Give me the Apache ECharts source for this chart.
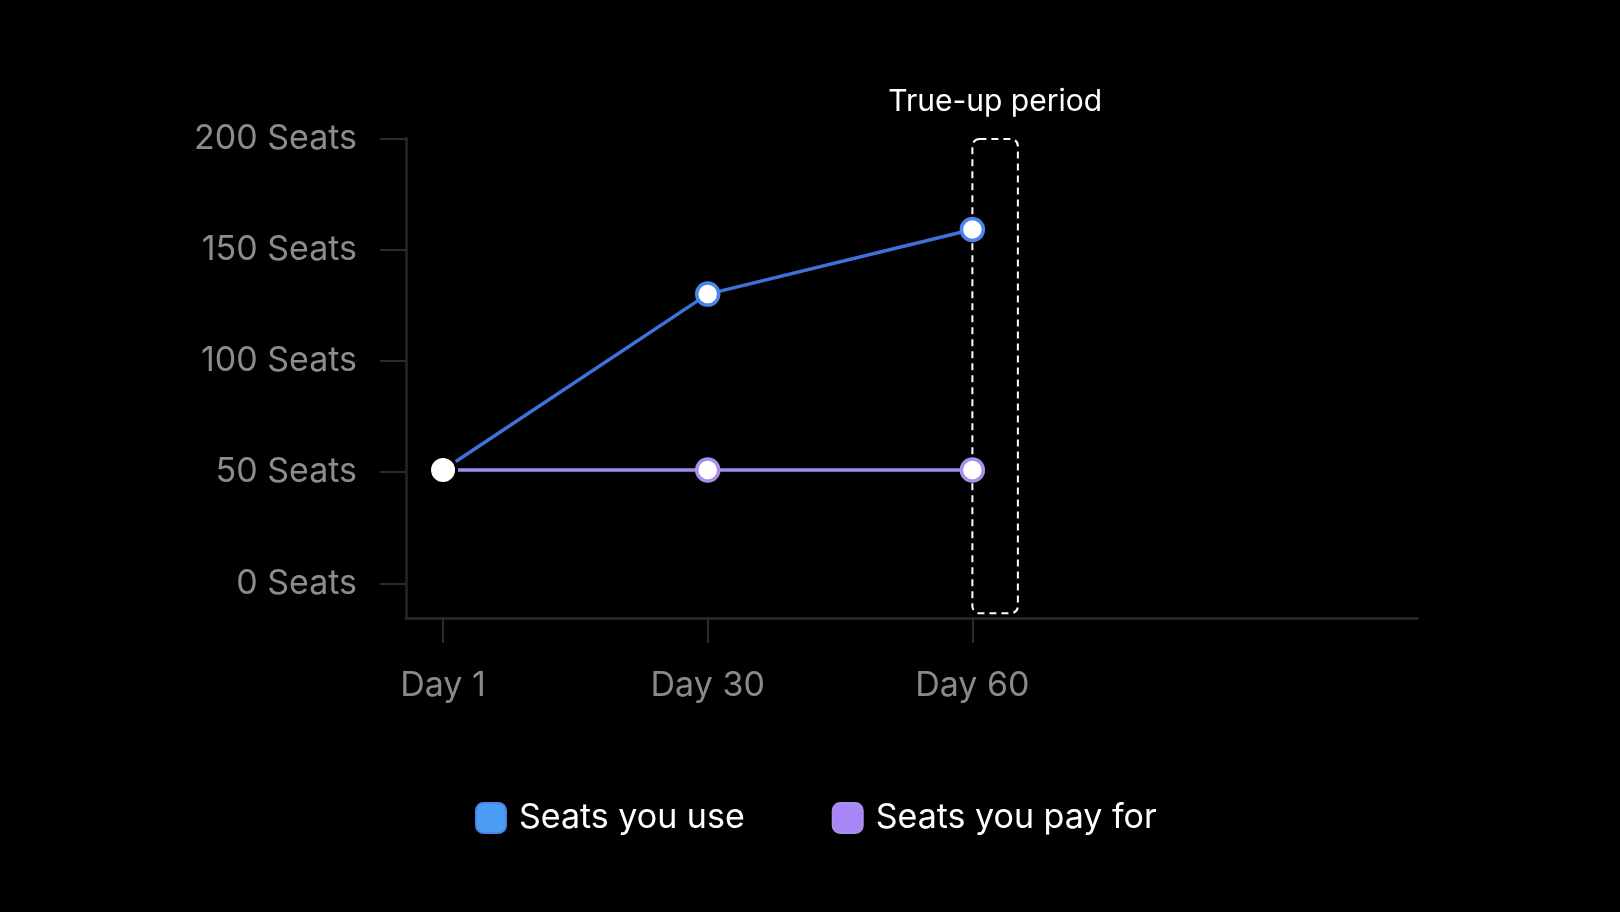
<!DOCTYPE html>
<html>
<head>
<meta charset="utf-8">
<script src="https://cdn.jsdelivr.net/npm/echarts@6/dist/echarts.min.js"></script>
<style>
html,body{margin:0;padding:0;background:#000;}
#c{width:1620px;height:912px;}
</style>
</head>
<body>
<div id="c"></div>
<script>
const categories = ['Day 1', 'Day 30', 'Day 60'];
const seatsYouUse = [51, 130, 159];
const seatsYouPayFor = [51, 51, 51];
const yTicks = [0, 50, 100, 150, 200];
const seriesNames = ['Seats you use', 'Seats you pay for'];
const trueUpLabel = 'True-up period';
const trueUpStart = 'Day 60';

const FONT = 'Inter, "Noto Sans", sans-serif';
const yMin = -15.5, yMax = 200;
const xMin = -0.14, xMax = 3.68;
const catIdx = categories.map((c, i) => i);

function makeData(vals) {
  return vals.map((v, i) => {
    const d = { value: [i, v] };
    if (i === 0) {
      d.symbolSize = 27;
      d.itemStyle = { color: '#ffffff', borderColor: '#000000', borderWidth: 3 };
    }
    return d;
  });
}

const chart = echarts.init(document.getElementById('c'));
chart.setOption({
  backgroundColor: '#000000',
  animation: false,
  grid: { left: 406, right: 203, top: 138.3, bottom: 294 },
  xAxis: {
    type: 'value', min: xMin, max: xMax,
    axisLine: { show: true, onZero: false, lineStyle: { color: '#262626', width: 3 } },
    axisTick: { show: true, customValues: catIdx, length: 25, lineStyle: { color: '#2c2c2c', width: 2 } },
    axisLabel: { customValues: catIdx, formatter: v => categories[Math.round(v)] || '',
      color: '#8a8a8a', fontFamily: FONT, fontSize: 34, margin: 51 },
    splitLine: { show: false }
  },
  yAxis: {
    type: 'value', min: yMin, max: yMax,
    axisLine: { show: true, onZero: false, lineStyle: { color: '#262626', width: 2.5 } },
    axisTick: { show: true, customValues: yTicks, length: 26, lineStyle: { color: '#2c2c2c', width: 2 } },
    axisLabel: { customValues: yTicks, formatter: v => v + ' Seats',
      color: '#8c8c8c', fontFamily: FONT, fontSize: 34, margin: 49, padding: [4, 0, 0, 0] },
    splitLine: { show: false }
  },
  legend: {
    data: [
      { name: seriesNames[0], itemStyle: { color: '#4b9cf5' } },
      { name: seriesNames[1], itemStyle: { color: '#a886f5' } }
    ],
    icon: 'roundRect', itemWidth: 30, itemHeight: 30, itemGap: 87,
    left: 470, top: 796,
    textStyle: { color: '#ffffff', fontFamily: FONT, fontSize: 34, padding: [0, 0, 0, 8] }
  },
  series: [
    {
      type: 'custom', name: 'trueup', silent: true, clip: false, z: 1,
      data: [[categories.indexOf(trueUpStart)]],
      renderItem: function (params, api) {
        const x0 = api.value(0);
        const tl = api.coord([x0, yMax]);
        const bl = api.coord([x0, yMin]);
        const w = 45.5;
        return {
          type: 'group',
          children: [
            { type: 'rect', shape: { x: tl[0], y: tl[1] + 0.7, width: w, height: bl[1] - tl[1] - 5.5, r: 7 },
              style: { fill: 'none', stroke: '#ffffff', lineWidth: 2, lineDash: [7, 5] } },
            { type: 'text', x: tl[0] + w / 2, y: 102,
              style: { text: trueUpLabel, fill: '#ffffff', font: '30px ' + FONT, textAlign: 'center', textVerticalAlign: 'middle' } }
          ]
        };
      }
    },
    {
      name: seriesNames[0], type: 'line', z: 3,
      data: makeData(seatsYouUse),
      symbol: 'circle', symbolSize: 22,
      lineStyle: { color: '#3e72d8', width: 3.5 },
      itemStyle: { color: '#ffffff', borderColor: '#4a84ec', borderWidth: 3.5 }
    },
    {
      name: seriesNames[1], type: 'line', z: 3,
      data: makeData(seatsYouPayFor),
      symbol: 'circle', symbolSize: 22,
      lineStyle: { color: '#a48ae8', width: 3.5 },
      itemStyle: { color: '#ffffff', borderColor: '#a88fe9', borderWidth: 3.5 }
    }
  ]
});
</script>
</body>
</html>
